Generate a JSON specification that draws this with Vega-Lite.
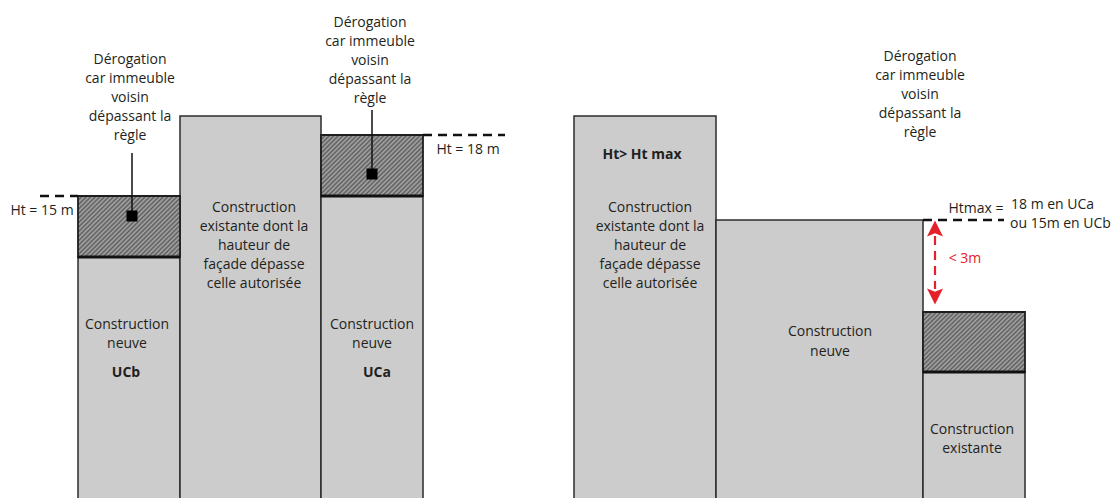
{
  "$schema": "https://vega.github.io/schema/vega-lite/v6.json",
  "width": 1111,
  "height": 498,
  "padding": 0,
  "autosize": {"type": "none"},
  "background": "white",
  "config": {"view": {"stroke": null}, "text": {"font": "Open Sans", "fontSize": 14, "color": "#231f20"}},
  "datasets": {
    "buildings": [
      {"x": 78, "x2": 180, "y": -5, "y2": 241},
      {"x": 180, "x2": 321, "y": -5, "y2": 382},
      {"x": 321, "x2": 423, "y": -5, "y2": 302},
      {"x": 574, "x2": 716, "y": -5, "y2": 382},
      {"x": 716, "x2": 923, "y": -5, "y2": 278},
      {"x": 923, "x2": 1025, "y": -5, "y2": 126}
    ],
    "hatch": [
      {"x": 78, "x2": 180, "y": 241, "y2": 302},
      {"x": 321, "x2": 423, "y": 302, "y2": 363},
      {"x": 923, "x2": 1025, "y": 126, "y2": 186}
    ],
    "thick": [
      {"x": 78, "x2": 180, "y": 241},
      {"x": 321, "x2": 423, "y": 302},
      {"x": 923, "x2": 1025, "y": 126}
    ],
    "dashes": [
      {"x": 40, "x2": 78, "y": 302},
      {"x": 423, "x2": 505, "y": 363},
      {"x": 923, "x2": 1004, "y": 278}
    ],
    "leaders": [
      {"x": 132, "y": 345, "y2": 282},
      {"x": 372, "y": 388, "y2": 324}
    ],
    "texts": [
      {"x": 130, "y": 438, "t": "Dérogation"},
      {"x": 130, "y": 419, "t": "car immeuble"},
      {"x": 130, "y": 400, "t": "voisin"},
      {"x": 130, "y": 381, "t": "dépassant la"},
      {"x": 130, "y": 362, "t": "règle"},
      {"x": 370, "y": 475, "t": "Dérogation"},
      {"x": 370, "y": 456, "t": "car immeuble"},
      {"x": 370, "y": 437, "t": "voisin"},
      {"x": 370, "y": 418, "t": "dépassant la"},
      {"x": 370, "y": 399, "t": "règle"},
      {"x": 920, "y": 441, "t": "Dérogation"},
      {"x": 920, "y": 422, "t": "car immeuble"},
      {"x": 920, "y": 403, "t": "voisin"},
      {"x": 920, "y": 384, "t": "dépassant la"},
      {"x": 920, "y": 365, "t": "règle"},
      {"x": 42, "y": 287, "t": "Ht = 15 m"},
      {"x": 468, "y": 348, "t": "Ht = 18 m"},
      {"x": 976, "y": 289, "t": "Htmax ="},
      {"x": 254, "y": 290, "t": "Construction"},
      {"x": 254, "y": 271, "t": "existante dont la"},
      {"x": 254, "y": 252, "t": "hauteur de"},
      {"x": 254, "y": 233, "t": "façade dépasse"},
      {"x": 254, "y": 214, "t": "celle autorisée"},
      {"x": 127, "y": 173, "t": "Construction"},
      {"x": 127, "y": 154, "t": "neuve"},
      {"x": 372, "y": 173, "t": "Construction"},
      {"x": 372, "y": 154, "t": "neuve"},
      {"x": 650, "y": 290, "t": "Construction"},
      {"x": 650, "y": 271, "t": "existante dont la"},
      {"x": 650, "y": 252, "t": "hauteur de"},
      {"x": 650, "y": 233, "t": "façade dépasse"},
      {"x": 650, "y": 214, "t": "celle autorisée"},
      {"x": 830, "y": 166, "t": "Construction"},
      {"x": 830, "y": 146, "t": "neuve"},
      {"x": 972, "y": 68, "t": "Construction"},
      {"x": 972, "y": 49, "t": "existante"}
    ],
    "boldTexts": [
      {"x": 126, "y": 125, "t": "UCb"},
      {"x": 377, "y": 125, "t": "UCa"},
      {"x": 642, "y": 343, "t": "Ht> Ht max"}
    ],
    "leftTexts": [
      {"x": 1011, "y": 293, "t": "18 m en UCa"},
      {"x": 1010, "y": 274, "t": "ou 15m en UCb"}
    ],
    "redTexts": [
      {"x": 965, "y": 239, "t": "< 3m"}
    ],
    "arrowLine": [{"x": 935, "y": 262, "y2": 209}],
    "arrowUp": [{"x": 935, "y": 269.5}],
    "arrowDown": [{"x": 935, "y": 201.5}]
  },
  "encoding": {
    "x": {"field": "x", "type": "quantitative", "scale": {"domain": [0, 1111], "nice": false, "zero": false}, "axis": null},
    "y": {"field": "y", "type": "quantitative", "scale": {"domain": [0, 498], "nice": false, "zero": false}, "axis": null}
  },
  "layer": [
    {
      "data": {"name": "buildings"},
      "mark": {"type": "rect", "fill": "#cccccc", "stroke": "#2b2b2b", "strokeWidth": 1.5},
      "encoding": {"x2": {"field": "x2"}, "y2": {"field": "y2"}}
    },
    {
      "data": {"name": "hatch"},
      "mark": {
        "type": "rect", "stroke": "#1e1e1e", "strokeWidth": 1.8,
        "fill": {
          "gradient": "linear", "x1": 0, "y1": 0, "x2": 1.177, "y2": 0.704,
          "stops": [
            {"offset": 0, "color": "#5c5c5c"}, {"offset": 0.0139, "color": "#a8a8a8"},
            {"offset": 0.0278, "color": "#5c5c5c"}, {"offset": 0.0417, "color": "#a8a8a8"},
            {"offset": 0.0556, "color": "#5c5c5c"}, {"offset": 0.0694, "color": "#a8a8a8"},
            {"offset": 0.0833, "color": "#5c5c5c"}, {"offset": 0.0972, "color": "#a8a8a8"},
            {"offset": 0.1111, "color": "#5c5c5c"}, {"offset": 0.125, "color": "#a8a8a8"},
            {"offset": 0.1389, "color": "#5c5c5c"}, {"offset": 0.1528, "color": "#a8a8a8"},
            {"offset": 0.1667, "color": "#5c5c5c"}, {"offset": 0.1806, "color": "#a8a8a8"},
            {"offset": 0.1944, "color": "#5c5c5c"}, {"offset": 0.2083, "color": "#a8a8a8"},
            {"offset": 0.2222, "color": "#5c5c5c"}, {"offset": 0.2361, "color": "#a8a8a8"},
            {"offset": 0.25, "color": "#5c5c5c"}, {"offset": 0.2639, "color": "#a8a8a8"},
            {"offset": 0.2778, "color": "#5c5c5c"}, {"offset": 0.2917, "color": "#a8a8a8"},
            {"offset": 0.3056, "color": "#5c5c5c"}, {"offset": 0.3194, "color": "#a8a8a8"},
            {"offset": 0.3333, "color": "#5c5c5c"}, {"offset": 0.3472, "color": "#a8a8a8"},
            {"offset": 0.3611, "color": "#5c5c5c"}, {"offset": 0.375, "color": "#a8a8a8"},
            {"offset": 0.3889, "color": "#5c5c5c"}, {"offset": 0.4028, "color": "#a8a8a8"},
            {"offset": 0.4167, "color": "#5c5c5c"}, {"offset": 0.4306, "color": "#a8a8a8"},
            {"offset": 0.4444, "color": "#5c5c5c"}, {"offset": 0.4583, "color": "#a8a8a8"},
            {"offset": 0.4722, "color": "#5c5c5c"}, {"offset": 0.4861, "color": "#a8a8a8"},
            {"offset": 0.5, "color": "#5c5c5c"}, {"offset": 0.5139, "color": "#a8a8a8"},
            {"offset": 0.5278, "color": "#5c5c5c"}, {"offset": 0.5417, "color": "#a8a8a8"},
            {"offset": 0.5556, "color": "#5c5c5c"}, {"offset": 0.5694, "color": "#a8a8a8"},
            {"offset": 0.5833, "color": "#5c5c5c"}, {"offset": 0.5972, "color": "#a8a8a8"},
            {"offset": 0.6111, "color": "#5c5c5c"}, {"offset": 0.625, "color": "#a8a8a8"},
            {"offset": 0.6389, "color": "#5c5c5c"}, {"offset": 0.6528, "color": "#a8a8a8"},
            {"offset": 0.6667, "color": "#5c5c5c"}, {"offset": 0.6806, "color": "#a8a8a8"},
            {"offset": 0.6944, "color": "#5c5c5c"}, {"offset": 0.7083, "color": "#a8a8a8"},
            {"offset": 0.7222, "color": "#5c5c5c"}, {"offset": 0.7361, "color": "#a8a8a8"},
            {"offset": 0.75, "color": "#5c5c5c"}, {"offset": 0.7639, "color": "#a8a8a8"},
            {"offset": 0.7778, "color": "#5c5c5c"}, {"offset": 0.7917, "color": "#a8a8a8"},
            {"offset": 0.8056, "color": "#5c5c5c"}, {"offset": 0.8194, "color": "#a8a8a8"},
            {"offset": 0.8333, "color": "#5c5c5c"}, {"offset": 0.8472, "color": "#a8a8a8"},
            {"offset": 0.8611, "color": "#5c5c5c"}, {"offset": 0.875, "color": "#a8a8a8"},
            {"offset": 0.8889, "color": "#5c5c5c"}, {"offset": 0.9028, "color": "#a8a8a8"},
            {"offset": 0.9167, "color": "#5c5c5c"}, {"offset": 0.9306, "color": "#a8a8a8"},
            {"offset": 0.9444, "color": "#5c5c5c"}, {"offset": 0.9583, "color": "#a8a8a8"},
            {"offset": 0.9722, "color": "#5c5c5c"}, {"offset": 0.9861, "color": "#a8a8a8"},
            {"offset": 1, "color": "#5c5c5c"}
          ]
        }
      },
      "encoding": {"x2": {"field": "x2"}, "y2": {"field": "y2"}}
    },
    {
      "data": {"name": "thick"},
      "mark": {"type": "rule", "stroke": "#111111", "strokeWidth": 3},
      "encoding": {"x2": {"field": "x2"}}
    },
    {
      "data": {"name": "dashes"},
      "mark": {"type": "rule", "stroke": "#111111", "strokeWidth": 2.5, "strokeDash": [9, 6]},
      "encoding": {"x2": {"field": "x2"}}
    },
    {
      "data": {"name": "leaders"},
      "mark": {"type": "rule", "stroke": "#111111", "strokeWidth": 1.5},
      "encoding": {"y2": {"field": "y2"}}
    },
    {
      "data": {"name": "leaders"},
      "mark": {"type": "point", "shape": "square", "filled": true, "fill": "#000000", "size": 121, "opacity": 1, "strokeWidth": 0},
      "encoding": {"y": {"field": "y2", "type": "quantitative"}}
    },
    {
      "data": {"name": "arrowLine"},
      "mark": {"type": "rule", "stroke": "#e4202a", "strokeWidth": 2.2, "strokeDash": [9, 6]},
      "encoding": {"y2": {"field": "y2"}}
    },
    {
      "data": {"name": "arrowUp"},
      "mark": {"type": "point", "shape": "M0,-1L1,1L0,0.6L-1,1Z", "filled": true, "fill": "#e4202a", "size": 256, "opacity": 1, "strokeWidth": 0}
    },
    {
      "data": {"name": "arrowDown"},
      "mark": {"type": "point", "shape": "M0,1L1,-1L0,-0.6L-1,-1Z", "filled": true, "fill": "#e4202a", "size": 256, "opacity": 1, "strokeWidth": 0}
    },
    {
      "data": {"name": "texts"},
      "mark": {"type": "text", "align": "center", "baseline": "middle"},
      "encoding": {"text": {"field": "t"}}
    },
    {
      "data": {"name": "boldTexts"},
      "mark": {"type": "text", "align": "center", "baseline": "middle", "fontWeight": "bold"},
      "encoding": {"text": {"field": "t"}}
    },
    {
      "data": {"name": "leftTexts"},
      "mark": {"type": "text", "align": "left", "baseline": "middle"},
      "encoding": {"text": {"field": "t"}}
    },
    {
      "data": {"name": "redTexts"},
      "mark": {"type": "text", "align": "center", "baseline": "middle", "color": "#e4202a"},
      "encoding": {"text": {"field": "t"}}
    }
  ]
}
